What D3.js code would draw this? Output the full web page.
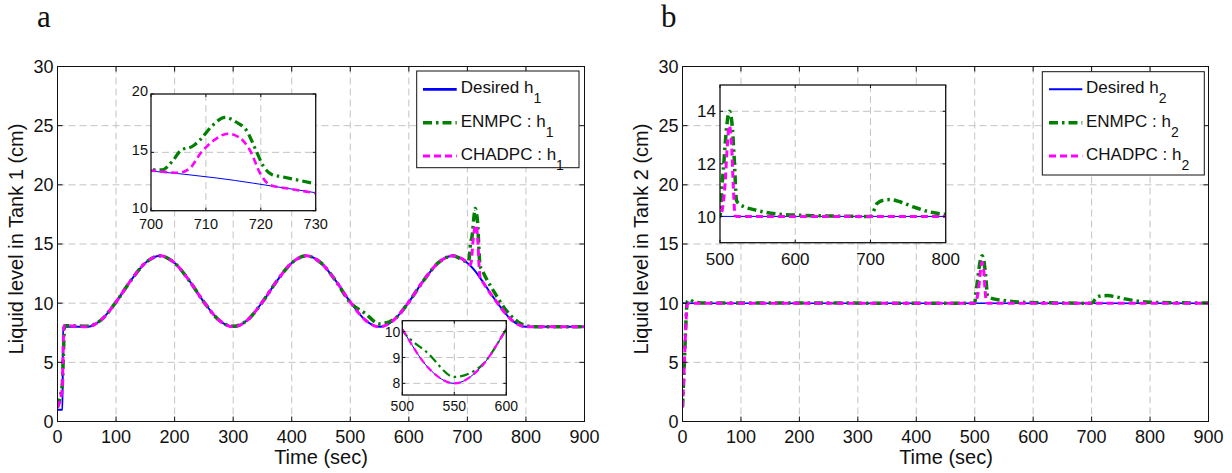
<!DOCTYPE html>
<html>
<head>
<meta charset="utf-8">
<script src="https://cdn.jsdelivr.net/npm/d3@7"></script>
<style>
  body { margin: 0; background: #fff; }
  svg { display: block; font-family: "Liberation Sans", Arial, sans-serif; }
</style>
</head>
<body>
<svg id="canvas" width="1232" height="473"></svg>
<script>
//Tick values of the big axes
var timeTicks = [0, 100, 200, 300, 400, 500, 600, 700, 800, 900];
var levelTicks = [0, 5, 10, 15, 20, 25, 30];

//Tank 1 : desired level h1 (time in sec, level in cm)
var desired1T = [0, 8.5, 9.5, 50, 75, 100, 125, 150, 175, 200, 225, 250, 275, 300, 325, 350, 375, 400, 425, 450, 475, 500, 525, 550, 575, 600, 625, 650, 675, 700, 712, 725, 750, 775, 800, 900];
var desired1V = [1, 1, 8, 8, 8.6, 10.1, 11.9, 13.4, 14, 13.4, 11.9, 10.1, 8.6, 8, 8.6, 10.1, 11.9, 13.4, 14, 13.4, 11.9, 10.1, 8.6, 8, 8.6, 10.1, 11.9, 13.4, 14, 13.4, 12.8, 11.9, 10.1, 8.6, 8, 8];

//Tank 1 : ENMPC
var enmpc1T = [0, 5, 8, 10, 12, 50, 75, 100, 125, 150, 175, 200, 225, 250, 275, 300, 325, 350, 375, 400, 425, 450, 475, 500, 525, 550, 575, 600, 625, 650, 675, 700, 702, 704, 705.5, 707.5, 709, 711, 713.5, 715.5, 717.5, 719, 720.5, 722, 724, 730, 750, 765, 775, 790, 800, 820, 900];
var enmpc1V = [1.2, 2.2, 3, 5.5, 8.1, 8.05, 8.6, 10.1, 11.9, 13.4, 14, 13.4, 11.9, 10.1, 8.6, 8.05, 8.6, 10.1, 11.9, 13.4, 14, 13.4, 11.9, 10.05, 9.15, 8.25, 8.65, 10.1, 11.9, 13.4, 14, 13.5, 13.5, 14.3, 15.2, 15.5, 16.1, 17.2, 18, 17.6, 16.8, 15.3, 13.8, 13.1, 12.9, 12.3, 10.6, 9.45, 8.9, 8.3, 8.1, 8, 8];

//Tank 1 : CHADPC
var chadpc1T = [0, 8, 11, 50, 75, 100, 125, 150, 175, 200, 225, 250, 275, 300, 325, 350, 375, 400, 425, 450, 475, 500, 525, 550, 575, 600, 625, 650, 675, 700, 705, 707, 709, 711.5, 714, 716, 718, 720, 721.7, 725, 730, 750, 775, 800, 900];
var chadpc1V = [1.2, 2.7, 8.1, 8, 8.6, 10.1, 11.9, 13.4, 14, 13.4, 11.9, 10.1, 8.6, 8, 8.6, 10.1, 11.9, 13.4, 14, 13.4, 11.9, 10.1, 8.6, 8, 8.6, 10.1, 11.9, 13.4, 14, 13.45, 13.25, 13.6, 14.9, 16.05, 16.6, 16.3, 15.2, 13.1, 12.2, 11.9, 11.5, 10.1, 8.6, 8, 8];

//Tank 2 : desired level h2
var desired2T = [0, 900];
var desired2V = [10, 10];

//Tank 2 : ENMPC
var enmpc2T = [0, 2, 4, 6, 8, 12, 20, 40, 500, 502, 504.5, 509, 512.5, 515.5, 519, 522, 526.5, 549, 580, 624, 700, 709, 717.5, 726.5, 740, 757, 779, 800, 850, 900];
var enmpc2V = [1.2, 3.5, 6, 8.5, 10.1, 10.3, 10.1, 10.02, 10, 10.9, 11.8, 13.45, 14, 13.65, 12.15, 10.6, 10.45, 10.23, 10.08, 10.03, 10, 10.5, 10.62, 10.64, 10.55, 10.36, 10.17, 10.08, 10.03, 10.01];

//Tank 2 : CHADPC
var chadpc2T = [0, 2, 4, 6, 8, 11, 500, 506.5, 509.7, 512.4, 515.5, 517.7, 520, 522, 900];
var chadpc2V = [1.2, 3.5, 6, 8.5, 9.9, 10, 10, 11.13, 12.68, 13.45, 12.68, 11.13, 10.04, 10, 10];

//Inset ticks
var insetA_xTicks = [700, 710, 720, 730];
var insetA_yTicks = [10, 15, 20];
var insetB_xTicks = [500, 550, 600];
var insetB_yTicks = [8, 9, 10];
var insetC_xTicks = [500, 600, 700, 800];
var insetC_yTicks = [10, 12, 14];

var svg = d3.select("#canvas");
var clipCount = 0;

var lineStyle = {
  desired: { color: "#0000ff", dash: null },
  enmpc:   { color: "#008000", dash: "9,4,2.5,4" },
  chadpc:  { color: "#ff00ff", dash: "7,4" }
};

//draws one set of axes (main plot or inset) with its curves
function drawAxes(p) {
  var x = d3.scaleLinear().domain(p.xDomain).range([p.left, p.right]);
  var y = d3.scaleLinear().domain(p.yDomain).range([p.bottom, p.top]);
  var g = svg.append("g");
  var id = "clip" + (clipCount++);

  svg.append("clipPath").attr("id", id)
    .append("rect")
    .attr("x", p.left).attr("y", p.top)
    .attr("width", p.right - p.left).attr("height", p.bottom - p.top);

  g.append("rect")
    .attr("x", p.left).attr("y", p.top)
    .attr("width", p.right - p.left).attr("height", p.bottom - p.top)
    .attr("fill", "#fff");

  //dashed grid
  g.selectAll(".vgrid").data(p.xTicks.filter(function(d){ return d > p.xDomain[0] && d < p.xDomain[1]; }))
    .enter().append("line")
    .attr("x1", function(d){ return x(d); }).attr("x2", function(d){ return x(d); })
    .attr("y1", p.top).attr("y2", p.bottom)
    .attr("stroke", "#c4c4c4").attr("stroke-width", 1).attr("stroke-dasharray", "7,4");
  g.selectAll(".hgrid").data(p.yTicks.filter(function(d){ return d > p.yDomain[0] && d < p.yDomain[1]; }))
    .enter().append("line")
    .attr("y1", function(d){ return y(d); }).attr("y2", function(d){ return y(d); })
    .attr("x1", p.left).attr("x2", p.right)
    .attr("stroke", "#c4c4c4").attr("stroke-width", 1).attr("stroke-dasharray", "7,4");

  var line = d3.line()
    .x(function(d){ return x(d[0]); })
    .y(function(d){ return y(d[1]); })
    .curve(d3.curveMonotoneX);

  p.series.forEach(function(s) {
    var st = lineStyle[s.kind];
    g.append("path")
      .datum(d3.zip(s.t, s.v))
      .attr("clip-path", "url(#" + id + ")")
      .attr("d", line)
      .attr("fill", "none")
      .attr("stroke", st.color)
      .attr("stroke-width", s.width)
      .attr("stroke-dasharray", st.dash)
      .attr("stroke-linejoin", "round");
  });

  //box
  g.append("rect")
    .attr("x", p.left).attr("y", p.top)
    .attr("width", p.right - p.left).attr("height", p.bottom - p.top)
    .attr("fill", "none").attr("stroke", "#111").attr("stroke-width", p.boxWidth || 1);

  //inward ticks on all four sides
  var tl = p.tickLen;
  p.xTicks.forEach(function(d) {
    g.append("line").attr("x1", x(d)).attr("x2", x(d)).attr("y1", p.bottom).attr("y2", p.bottom - tl).attr("stroke", "#111");
    g.append("line").attr("x1", x(d)).attr("x2", x(d)).attr("y1", p.top).attr("y2", p.top + tl).attr("stroke", "#111");
  });
  p.yTicks.forEach(function(d) {
    g.append("line").attr("y1", y(d)).attr("y2", y(d)).attr("x1", p.left).attr("x2", p.left + tl).attr("stroke", "#111");
    g.append("line").attr("y1", y(d)).attr("y2", y(d)).attr("x1", p.right).attr("x2", p.right - tl).attr("stroke", "#111");
  });

  //tick labels
  g.selectAll(".xlab").data(p.xTicks).enter().append("text")
    .attr("x", function(d){ return x(d); })
    .attr("y", p.bottom + p.xLabOff)
    .attr("text-anchor", "middle")
    .attr("font-size", p.fontSize)
    .attr("fill", "#111")
    .text(function(d){ return d; });
  g.selectAll(".ylab").data(p.yTicks).enter().append("text")
    .attr("x", p.left - p.yLabOff)
    .attr("y", function(d){ return y(d) + p.fontSize * 0.36 - (p.yLabLift || 0); })
    .attr("text-anchor", "end")
    .attr("font-size", p.fontSize)
    .attr("fill", "#111")
    .text(function(d){ return d; });

  return g;
}

function drawLegend(L, sub) {
  var g = svg.append("g");
  g.append("rect")
    .attr("x", L.left).attr("y", L.top)
    .attr("width", L.right - L.left).attr("height", L.bottom - L.top)
    .attr("fill", "#fff").attr("stroke", "#111").attr("stroke-width", 1);
  var items = [
    { kind: "desired", label: "Desired h", w: L.blueW },
    { kind: "enmpc", label: "ENMPC : h", w: 3.5 },
    { kind: "chadpc", label: "CHADPC : h", w: 3 }
  ];
  items.forEach(function(it, i) {
    var base = L.firstBase + i * 33.4;
    var st = lineStyle[it.kind];
    g.append("line")
      .attr("x1", L.lineX0).attr("x2", L.lineX1)
      .attr("y1", base - 4).attr("y2", base - 4)
      .attr("stroke", st.color).attr("stroke-width", it.w)
      .attr("stroke-dasharray", st.dash);
    var t = g.append("text")
      .attr("x", L.textX).attr("y", base)
      .attr("font-size", 17).attr("fill", "#111");
    t.append("tspan").text(it.label);
    t.append("tspan").attr("dy", 10).attr("font-size", 14).text(sub);
  });
}

//---------- Panel a : Tank 1 ----------
drawAxes({
  left: 57.5, right: 584.5, top: 66.5, bottom: 421.5,
  xDomain: [0, 900], yDomain: [0, 30],
  xTicks: timeTicks, yTicks: levelTicks,
  tickLen: 5, fontSize: 18, xLabOff: 21, yLabOff: 4,
  series: [
    { kind: "desired", t: desired1T, v: desired1V, width: 2 },
    { kind: "enmpc", t: enmpc1T, v: enmpc1V, width: 3.5 },
    { kind: "chadpc", t: chadpc1T, v: chadpc1V, width: 3 }
  ]
});

drawAxes({
  left: 151, right: 315.7, top: 94, bottom: 210.7,
  xDomain: [700, 730], yDomain: [10, 20],
  xTicks: insetA_xTicks, yTicks: insetA_yTicks,
  tickLen: 3, fontSize: 14.5, xLabOff: 18.5, yLabOff: 3, yLabLift: 3, boxWidth: 1.3,
  series: [
    { kind: "desired", t: desired1T, v: desired1V, width: 1 },
    { kind: "enmpc", t: enmpc1T, v: enmpc1V, width: 3.2 },
    { kind: "chadpc", t: chadpc1T, v: chadpc1V, width: 2.6 }
  ]
});

drawAxes({
  left: 402.3, right: 506.3, top: 320.7, bottom: 395,
  xDomain: [500, 600], yDomain: [7.55, 10.42],
  xTicks: insetB_xTicks, yTicks: insetB_yTicks,
  tickLen: 3, fontSize: 14, xLabOff: 15.5, yLabOff: 2, boxWidth: 1.3,
  series: [
    { kind: "desired", t: desired1T, v: desired1V, width: 1 },
    { kind: "enmpc", t: enmpc1T, v: enmpc1V, width: 2.2 },
    { kind: "chadpc", t: chadpc1T, v: chadpc1V, width: 2.2 }
  ]
});

drawLegend({
  left: 416.7, right: 579, top: 71, bottom: 167.7,
  lineX0: 423, lineX1: 456.7, textX: 460.7, firstBase: 93.3, blueW: 2.8
}, "1");

svg.append("text")
  .attr("x", 321).attr("y", 464)
  .attr("text-anchor", "middle").attr("font-size", 20).attr("fill", "#111")
  .text("Time (sec)");
svg.append("text")
  .attr("transform", "translate(23,239) rotate(-90)")
  .attr("text-anchor", "middle").attr("font-size", 20).attr("fill", "#111")
  .text("Liquid level in Tank 1 (cm)");
svg.append("text")
  .attr("x", 37).attr("y", 27)
  .attr("font-family", "'Liberation Serif', 'Times New Roman', serif")
  .attr("font-size", 31).attr("fill", "#111")
  .text("a");

//---------- Panel b : Tank 2 ----------
drawAxes({
  left: 682.5, right: 1208.5, top: 66.5, bottom: 421.5,
  xDomain: [0, 900], yDomain: [0, 30],
  xTicks: timeTicks, yTicks: levelTicks,
  tickLen: 5, fontSize: 18, xLabOff: 21, yLabOff: 4,
  series: [
    { kind: "desired", t: desired2T, v: desired2V, width: 1.5 },
    { kind: "enmpc", t: enmpc2T, v: enmpc2V, width: 3.5 },
    { kind: "chadpc", t: chadpc2T, v: chadpc2V, width: 3 }
  ]
});

drawAxes({
  left: 720, right: 945.7, top: 85, bottom: 242.7,
  xDomain: [500, 800], yDomain: [9, 15],
  xTicks: insetC_xTicks, yTicks: insetC_yTicks,
  tickLen: 3, fontSize: 17, xLabOff: 22, yLabOff: 4, boxWidth: 1.3,
  series: [
    { kind: "desired", t: desired2T, v: desired2V, width: 1 },
    { kind: "enmpc", t: enmpc2T, v: enmpc2V, width: 3.5 },
    { kind: "chadpc", t: chadpc2T, v: chadpc2V, width: 3 }
  ]
});

drawLegend({
  left: 1042.3, right: 1204.3, top: 71.7, bottom: 175,
  lineX0: 1049, lineX1: 1082.3, textX: 1086, firstBase: 93.3, blueW: 2
}, "2");

svg.append("text")
  .attr("x", 946).attr("y", 464)
  .attr("text-anchor", "middle").attr("font-size", 20).attr("fill", "#111")
  .text("Time (sec)");
svg.append("text")
  .attr("transform", "translate(648,239) rotate(-90)")
  .attr("text-anchor", "middle").attr("font-size", 20).attr("fill", "#111")
  .text("Liquid level in Tank 2 (cm)");
svg.append("text")
  .attr("x", 661).attr("y", 27)
  .attr("font-family", "'Liberation Serif', 'Times New Roman', serif")
  .attr("font-size", 31).attr("fill", "#111")
  .text("b");
</script>
</body>
</html>
